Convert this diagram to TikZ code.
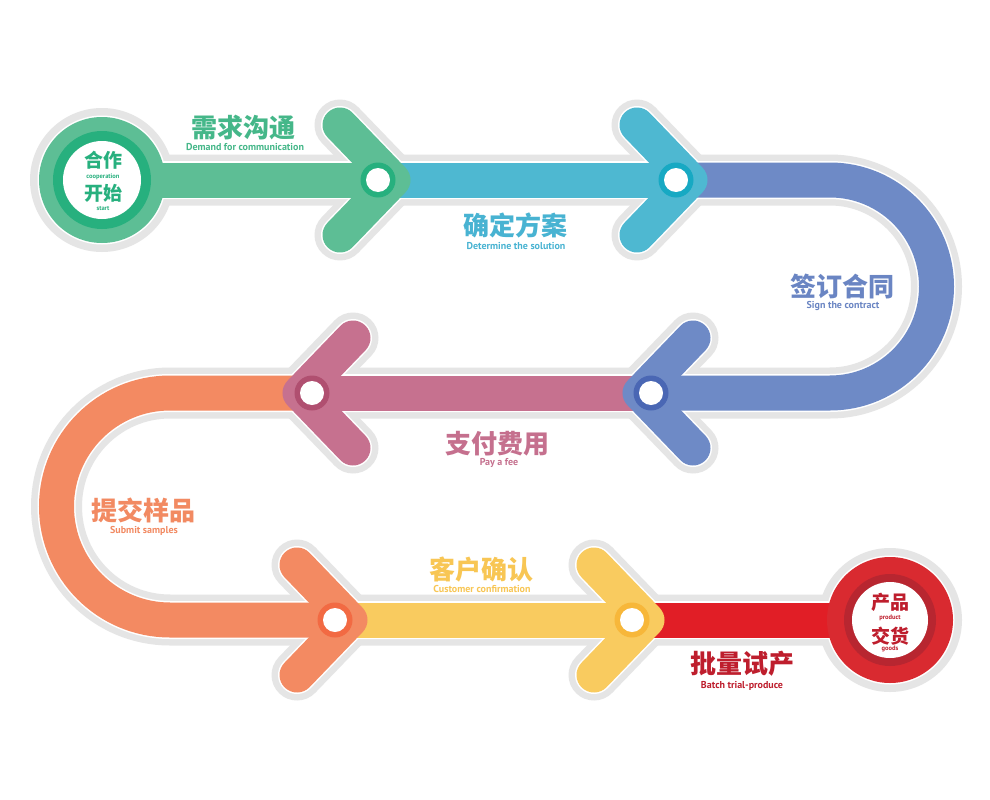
\documentclass[tikz,border=0pt]{standalone}
\usepackage{fontspec}
\setmainfont{PT Sans}
\newfontfamily\cjk{Noto Sans CJK SC}
\definecolor{grayc}{HTML}{E5E5E5}
\definecolor{gA}{HTML}{5DBE95}\definecolor{gB}{HTML}{27B07E}\definecolor{gT}{HTML}{45B789}
\definecolor{cA}{HTML}{4EB8D1}\definecolor{cB}{HTML}{17A9C3}\definecolor{cT}{HTML}{48B3D2}
\definecolor{bA}{HTML}{6E8AC6}\definecolor{bB}{HTML}{4A67B4}\definecolor{bT}{HTML}{6A85C3}
\definecolor{pA}{HTML}{C6718F}\definecolor{pB}{HTML}{B04F70}\definecolor{pT}{HTML}{C5708E}
\definecolor{oA}{HTML}{F38A62}\definecolor{oB}{HTML}{F26A43}\definecolor{oT}{HTML}{F28A62}
\definecolor{yA}{HTML}{F9CB5F}\definecolor{yB}{HTML}{F7B73A}\definecolor{yT}{HTML}{F8C654}
\definecolor{rA}{HTML}{E11E26}\definecolor{rC}{HTML}{D92A30}\definecolor{rB}{HTML}{B82630}\definecolor{rT}{HTML}{BE1E2D}
\tikzset{
  halo/.style={line width=51pt, draw=grayc, line cap=round, line join=round},
  rim/.style={line width=38pt, draw=white, line cap=round, line join=round},
  band/.style={line width=35pt, line cap=butt},
  chev/.style={line width=35pt, line cap=round, line join=round},
  zh/.style={font=\cjk\bfseries\fontsize{26}{26}\selectfont, inner sep=0pt},
  zhs/.style={font=\cjk\bfseries\fontsize{19}{19}\selectfont, inner sep=0pt},
  en/.style={font=\bfseries\fontsize{10}{10}\selectfont, inner sep=0pt},
  ens/.style={font=\bfseries\fontsize{6.5}{7}\selectfont, inner sep=0pt},
}
\begin{document}
\begin{tikzpicture}[x=1pt,y=-1pt]
\useasboundingbox[fill=white] (0,0) rectangle (990,800);
% key points
\coordinate (S) at (102,180);
\coordinate (E) at (890,620);
\coordinate (V1) at (393,180); \coordinate (V1a) at (340,125); \coordinate (V1b) at (340,235);
\coordinate (V2) at (690,180); \coordinate (V2a) at (637,125); \coordinate (V2b) at (637,235);
\coordinate (R1) at (830,180); \coordinate (R2) at (830,393);
\coordinate (V3) at (640,393); \coordinate (V3a) at (693,338); \coordinate (V3b) at (693,448);
\coordinate (V4) at (300,393); \coordinate (V4a) at (353,338); \coordinate (V4b) at (353,448);
\coordinate (L1) at (170,393); \coordinate (L2) at (170,620);
\coordinate (V5) at (350,620); \coordinate (V5a) at (297,565); \coordinate (V5b) at (297,675);
\coordinate (V6) at (647,620); \coordinate (V6a) at (594,565); \coordinate (V6b) at (594,675);
% gray halo layer
\fill[grayc] (S) circle[radius=72];
\fill[grayc] (E) circle[radius=72];
\draw[halo] (S) -- (R1) arc[start angle=-90,end angle=90,radius=106.5] -- (L1) arc[start angle=270,end angle=90,radius=113.5] -- (E);
\foreach \v in {1,...,6} {\draw[halo] (V\v a) -- (V\v) -- (V\v b);}
% white rim layer
\fill[white] (S) circle[radius=64.5];
\fill[white] (E) circle[radius=64.5];
\draw[rim] (S) -- (R1) arc[start angle=-90,end angle=90,radius=106.5] -- (L1) arc[start angle=270,end angle=90,radius=113.5] -- (E);
\foreach \v in {1,...,6} {\draw[rim] (V\v a) -- (V\v) -- (V\v b);}
% coloured bands
\draw[band,gA] (S) -- (V1);
\draw[band,cA] (V1) -- (V2);
\draw[band,bA] (V2) -- (R1) arc[start angle=-90,end angle=90,radius=106.5] -- (V3);
\draw[band,pA] (V3) -- (V4);
\draw[band,oA] (V4) -- (L1) arc[start angle=270,end angle=90,radius=113.5] -- (V5);
\draw[band,yA] (V5) -- (V6);
\draw[band,rA] (V6) -- (E);
% end circles
\fill[gA] (S) circle[radius=63];
\fill[gB] (S) circle[radius=49];
\fill[white] (S) circle[radius=39];
\fill[rC] (E) circle[radius=63];
\fill[rB] (E) circle[radius=46];
\fill[white] (E) circle[radius=38];
% chevrons
\draw[chev,gA] (V1a) -- (V1) -- (V1b);
\draw[chev,cA] (V2a) -- (V2) -- (V2b);
\draw[chev,bA] (V3a) -- (V3) -- (V3b);
\draw[chev,pA] (V4a) -- (V4) -- (V4b);
\draw[chev,oA] (V5a) -- (V5) -- (V5b);
\draw[chev,yA] (V6a) -- (V6) -- (V6b);
% dots
\foreach \p/\c in {{(378,180)}/gB,{(676,180)}/cB,{(651,393)}/bB,{(312,393)}/pB,{(335,620)}/oB,{(632,620)}/yB}{
  \fill[\c] \p circle[radius=17.5];
  \fill[white] \p circle[radius=12];
}
% labels
\node[zh,text=gT] (t1) at (243,128) {需求沟通};
\node[en,text=gT] (e1) at (245,147) {Demand for communication};
\node[zh,text=cT] (t2) at (515,225) {确定方案};
\node[en,text=cT] (e2) at (516,246) {Determine the solution};
\node[zh,text=bT] (t3) at (842,286) {签订合同};
\node[en,text=bT] (e3) at (843,306) {Sign the contract};
\node[zh,text=pT] (t4) at (497,444) {支付费用};
\node[en,text=pT] (e4) at (499,463) {Pay a fee};
\node[zh,text=oT] (t5) at (143,510) {提交样品};
\node[en,text=oT] (e5) at (144,531) {Submit samples};
\node[zh,text=yT] (t6) at (481,570) {客户确认};
\node[en,text=yT] (e6) at (482,589) {Customer confirmation};
\node[zh,text=rT] (t7) at (742,664) {批量试产};
\node[en,text=rT] (e7) at (742,686) {Batch trial-produce};
% circle texts
\node[zhs,text=gB] (s1) at (103,160) {合作};
\node[ens,text=gB] (s2) at (103,177) {cooperation};
\node[zhs,text=gB] (s3) at (103,193) {开始};
\node[ens,text=gB] (s4) at (103,208) {start};
\node[zhs,text=rT] (f1) at (890,602) {产品};
\node[ens,text=rT] (f2) at (890,618) {product};
\node[zhs,text=rT] (f3) at (890,636) {交货};
\node[ens,text=rT] (f4) at (890,649) {goods};
\end{tikzpicture}
\end{document}
